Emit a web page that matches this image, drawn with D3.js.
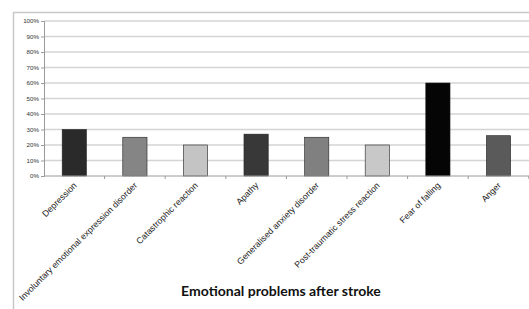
<!DOCTYPE html>
<html><head><meta charset="utf-8">
<script src="https://cdn.jsdelivr.net/npm/d3@7"></script>
<style>body{margin:0;background:#fff}svg{display:block}</style>
</head><body>
<svg id="c" width="529" height="309"></svg>
<script>
const categories = ["Depression","Involuntary emotional expression disorder","Catastrophic  reaction","Apathy","Generalised anxiety disorder","Post-traumatic stress reaction","Fear of falling","Anger"];
const values = [30,25,20,27,25,20,60,26];
const barColors = ["#2a2a2a","#858585","#c4c4c4","#383838","#808080","#c8c8c8","#050505","#5a5a5a"];
const yTicks = [0,10,20,30,40,50,60,70,80,90,100];
const title = "Emotional problems after stroke";

const svg = d3.select("#c");
const pLeft = 44, pRight = 529, pTop = 21, pBottom = 176;
const x = d3.scaleBand().domain(categories).range([pLeft, pLeft + 8*60.6]).paddingInner(0.6).paddingOuter(0.3);
const y = d3.scaleLinear().domain([0,100]).range([pBottom, pTop]);

// outer border
svg.append("path").attr("d", `M13.5,309 V12.5 H529`).attr("fill","none").attr("stroke","#c8c8c8").attr("stroke-width",1.5);

// gridlines
svg.append("g").selectAll("line").data(yTicks.slice(1)).join("line")
  .attr("x1", pLeft).attr("x2", pRight).attr("y1", d=>y(d)).attr("y2", d=>y(d))
  .attr("stroke","#d4d4d4").attr("stroke-width",1.4);

// y axis
const ya = svg.append("g").attr("transform",`translate(${pLeft},0)`)
  .call(d3.axisLeft(y).tickValues(yTicks).tickFormat(d=>d+"%").tickSize(3).tickPadding(2));
ya.select(".domain").attr("stroke","#9a9a9a");
ya.selectAll(".tick line").attr("stroke","#9a9a9a");
ya.selectAll("text").attr("font-family","Liberation Sans, Arial").attr("font-size",6.2).attr("fill","#333");

// bars
svg.append("g").selectAll("rect").data(categories).join("rect")
  .attr("x", d=>x(d)).attr("width", x.bandwidth())
  .attr("y", (d,i)=>y(values[i])).attr("height",(d,i)=>pBottom - y(values[i]))
  .attr("fill",(d,i)=>barColors[i]).attr("stroke","#222").attr("stroke-width",0.6);

// x axis
const step = x.step();
const xa = svg.append("g").attr("transform",`translate(0,${pBottom})`);
xa.append("line").attr("x1",pLeft).attr("x2",pRight).attr("stroke","#9a9a9a").attr("stroke-width",1);
xa.selectAll(".tk").data(d3.range(1,9)).join("line").attr("class","tk")
  .attr("x1",i=>pLeft + i*step).attr("x2",i=>pLeft + i*step).attr("y1",0).attr("y2",3)
  .attr("stroke","#9a9a9a");
xa.selectAll("text.lbl").data(categories).join("text").attr("class","lbl")
  .attr("transform", d=>`translate(${x(d)+x.bandwidth()/2+3},${10}) rotate(-45)`)
  .attr("text-anchor","end").attr("font-family","Liberation Sans, Arial").attr("font-size",8.8)
  .attr("fill","#222").text(d=>d);

// title
const t = svg.append("text").attr("x",281).attr("y",296).attr("text-anchor","middle")
  .attr("font-family","Lato, Open Sans, sans-serif").attr("font-weight","bold").attr("font-size",12)
  .attr("fill","#111").text(title);
const w = t.node().getComputedTextLength();
t.attr("font-size", 12*200/w);
</script>
</body></html>
